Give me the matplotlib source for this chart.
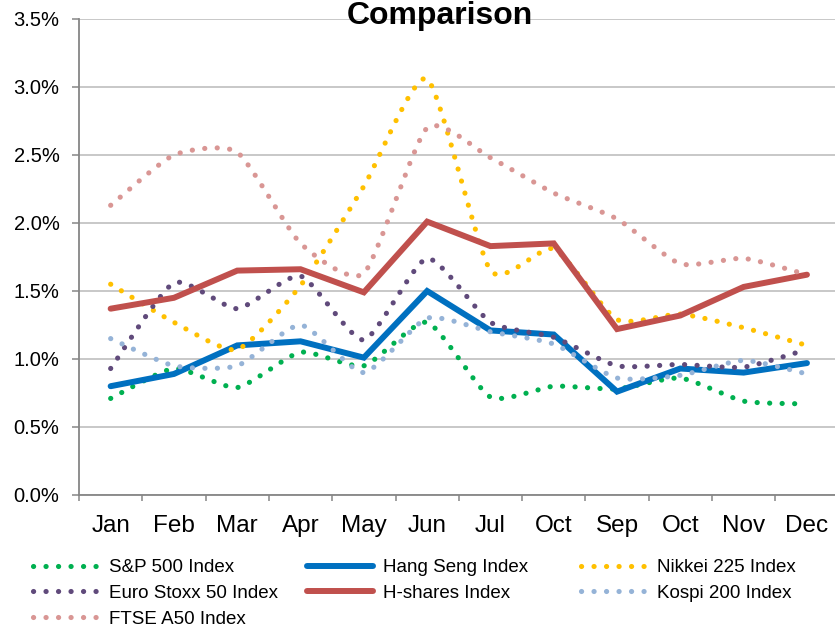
import numpy as np
import matplotlib
matplotlib.use("Agg")
import matplotlib.pyplot as plt
from matplotlib.ticker import FixedLocator, NullFormatter

plt.rcParams['font.family'] = ['Liberation Sans', 'DejaVu Sans']
plt.rcParams['lines.scale_dashes'] = False

# ---- data (percent) ----
months = ["Jan", "Feb", "Mar", "Apr", "May", "Jun", "Jul", "Oct", "Sep", "Oct", "Nov", "Dec"]

sp500      = [0.71, 0.93, 0.79, 1.05, 0.95, 1.27, 0.72, 0.80, 0.78, 0.86, 0.69, 0.67]
hang_seng  = [0.80, 0.89, 1.10, 1.13, 1.01, 1.50, 1.21, 1.18, 0.76, 0.93, 0.90, 0.97]
nikkei225  = [1.55, 1.27, 1.07, 1.54, 2.27, 3.06, 1.65, 1.81, 1.29, 1.33, 1.23, 1.10]
euro_stoxx = [0.93, 1.56, 1.37, 1.61, 1.14, 1.74, 1.27, 1.16, 0.95, 0.96, 0.94, 1.07]
h_shares   = [1.37, 1.45, 1.65, 1.66, 1.49, 2.01, 1.83, 1.85, 1.22, 1.32, 1.53, 1.62]
kospi200   = [1.15, 0.95, 0.95, 1.25, 0.90, 1.30, 1.20, 1.11, 0.86, 0.88, 0.99, 0.89]
ftse_a50   = [2.13, 2.50, 2.52, 1.85, 1.63, 2.70, 2.48, 2.22, 2.03, 1.70, 1.74, 1.62]

series_names = ["S&P 500 Index", "Hang Seng Index", "Nikkei 225 Index",
                "Euro Stoxx 50 Index", "H-shares Index", "Kospi 200 Index",
                "FTSE A50 Index"]
series_values = [sp500, hang_seng, nikkei225, euro_stoxx, h_shares, kospi200, ftse_a50]
series_colors = ["#00B050", "#0070C0", "#FFC000", "#604A7B", "#C0504D", "#95B3D7", "#D99694"]
series_smooth = [True, False, True, True, False, True, True]

y_ticks = [0.0, 0.5, 1.0, 1.5, 2.0, 2.5, 3.0, 3.5]


def smooth_curve(values, tension=0.1, steps=24):
    """Cubic Bezier smoothing through every point (cardinal-spline control points)."""
    y = np.asarray(values, dtype=float)
    x = np.arange(len(y), dtype=float)
    P = np.column_stack([x, y])
    Pe = np.vstack([P[0], P, P[-1]])
    out = []
    t = np.linspace(0, 1, steps)[:, None]
    for i in range(len(P) - 1):
        p0, p3 = Pe[i + 1], Pe[i + 2]
        c1 = p0 + (Pe[i + 2] - Pe[i]) * tension
        c2 = p3 - (Pe[i + 3] - Pe[i + 1]) * tension
        seg = ((1 - t) ** 3) * p0 + 3 * ((1 - t) ** 2) * t * c1 + 3 * (1 - t) * t ** 2 * c2 + t ** 3 * p3
        out.append(seg if i == 0 else seg[1:])
    out = np.vstack(out)
    return out[:, 0], out[:, 1]


W, H = 835, 626
fig = plt.figure(figsize=(W / 100, H / 100), dpi=100)
left_px, right_px, top_px, bottom_px = 79, 838.6, 19, 495
ax = fig.add_axes([left_px / W, 1 - bottom_px / H,
                   (right_px - left_px) / W, (bottom_px - top_px) / H])

handles = []
for name, vals, col, sm in zip(series_names, series_values, series_colors, series_smooth):
    if sm:
        xs, ys = smooth_curve(vals)
        ln, = ax.plot(xs, ys, color=col, lw=3.7, linestyle=(0, (0.1, 8.9)),
                      dash_capstyle='round', solid_capstyle='round', label=name, zorder=3)
    else:
        ln, = ax.plot(np.arange(len(vals)), vals, color=col, lw=4.3,
                      solid_capstyle='round', solid_joinstyle='miter', label=name, zorder=3)
    handles.append(ln)

ax.set_xlim(-0.5, len(months) - 0.5)
ax.set_ylim(0, 3.5)
ax.set_yticks(y_ticks)
ax.set_yticklabels([f"{v:.1f}%" for v in y_ticks])
ax.set_xticks(np.arange(len(months)))
ax.set_xticklabels(months)
ax.xaxis.set_minor_locator(FixedLocator(np.arange(len(months) + 1) - 0.5))
ax.xaxis.set_minor_formatter(NullFormatter())

ax.grid(axis='y', color='#BFBFBF', lw=1.2, zorder=0)
ax.set_axisbelow(True)
for s in ['top', 'right']:
    ax.spines[s].set_visible(False)
for s in ['left', 'bottom']:
    ax.spines[s].set_color('#868686')
    ax.spines[s].set_linewidth(1.3)

ax.tick_params(axis='y', which='major', direction='out', length=5, width=1.1,
               color='#868686', labelsize=14.5, pad=9, labelcolor='black')
ax.tick_params(axis='x', which='major', length=0, labelsize=17.5, pad=14.5, labelcolor='black')
ax.tick_params(axis='x', which='minor', direction='out', length=4.5, width=1.1, color='#868686')

fig.text(440 / W, 1 - 24 / H, "Comparison", ha='center', va='baseline',
         fontsize=23, fontweight='bold')

# legend laid out in three columns
col_x = [33, 307, 581]
columns = [[0, 3, 6], [1, 4], [2, 5]]
for cx, idx in zip(col_x, columns):
    fig.legend([handles[i] for i in idx], [series_names[i] for i in idx],
               loc='upper left', bbox_to_anchor=(cx / W, 1 - 559 / H),
               frameon=False, borderpad=0, borderaxespad=0, fontsize=13.5,
               handlelength=3.5, handletextpad=0.55, labelspacing=0.46)

fig.savefig("out.png", dpi=100)
